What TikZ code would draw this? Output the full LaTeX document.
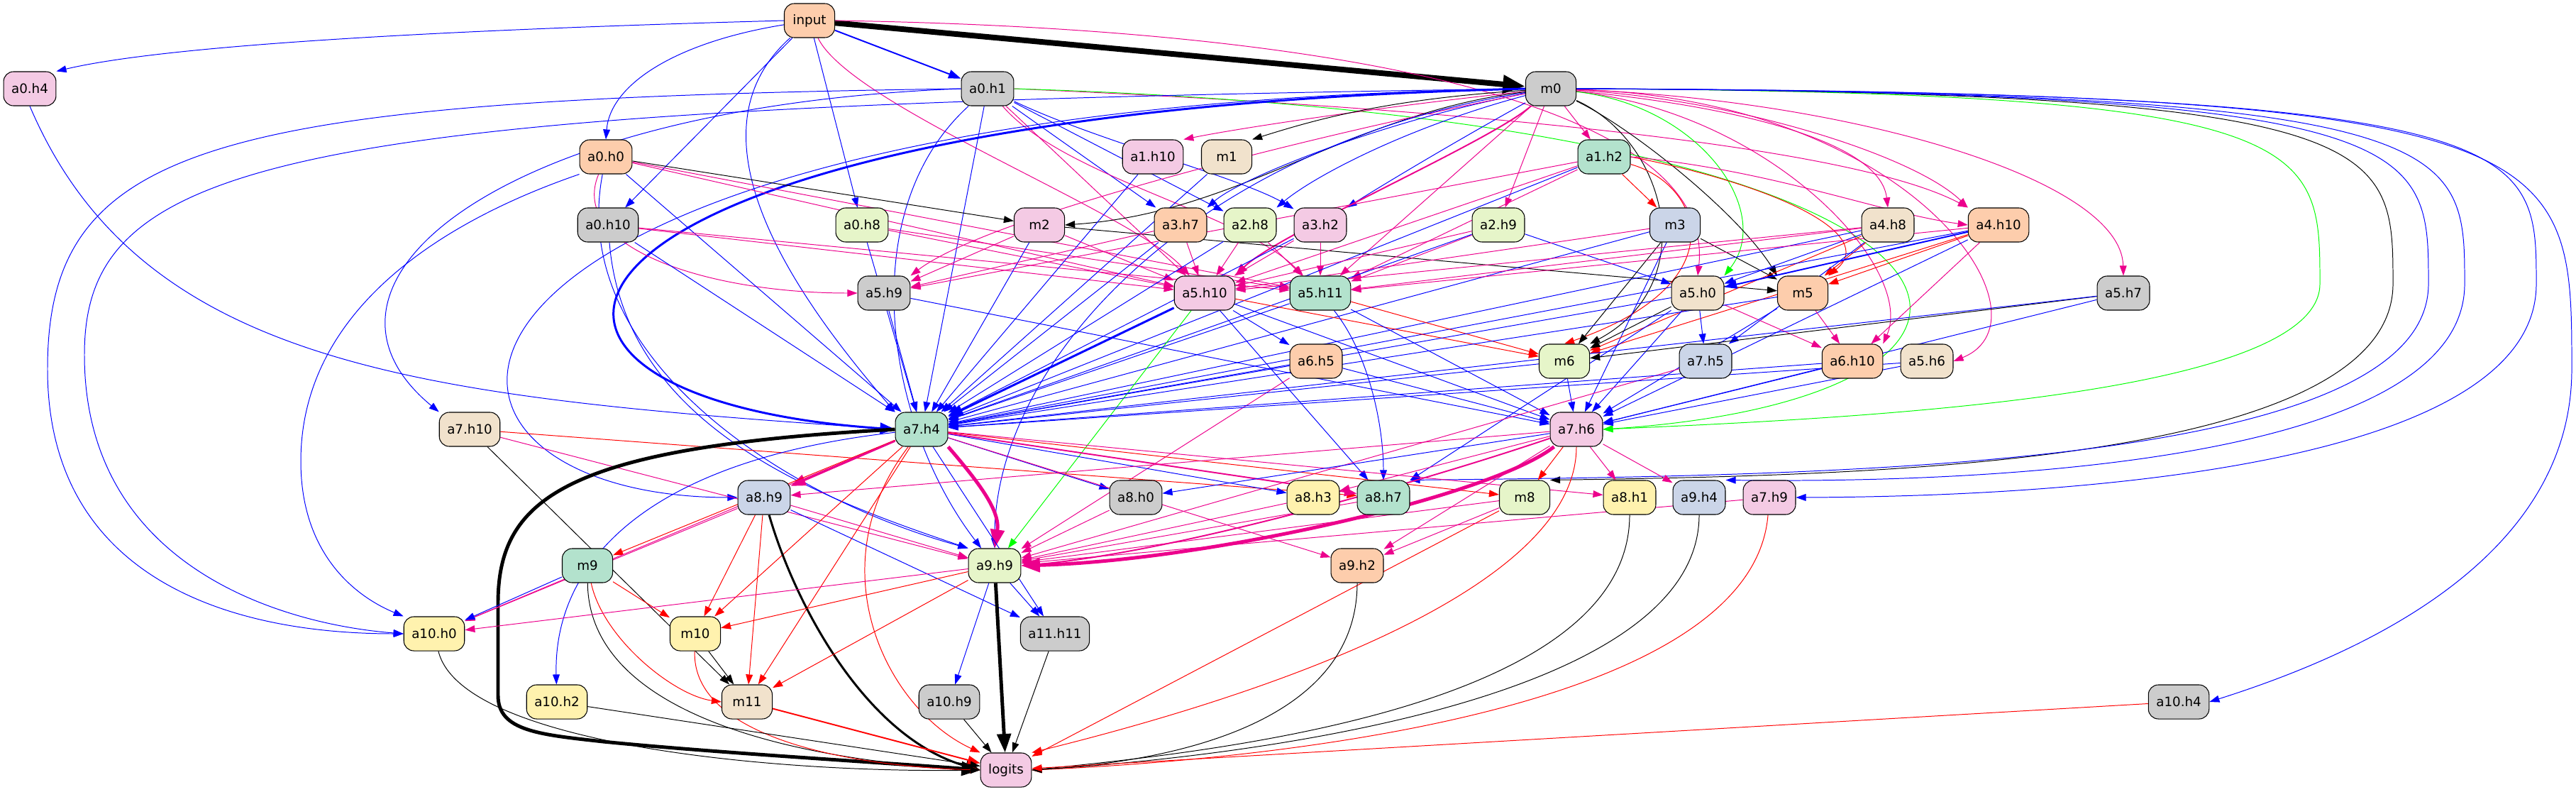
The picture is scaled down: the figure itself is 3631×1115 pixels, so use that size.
\documentclass[tikz,border=0pt]{standalone}
\usepackage{fontspec}
\setmainfont{DejaVu Sans}
\usetikzlibrary{arrows.meta,backgrounds}

\definecolor{cpeach}{HTML}{FDCDAC}
\definecolor{cgrey}{HTML}{CCCCCC}
\definecolor{cpink}{HTML}{F4CAE4}
\definecolor{cbeige}{HTML}{F1E2CC}
\definecolor{cgreen}{HTML}{E6F5C9}
\definecolor{cteal}{HTML}{B3E2CD}
\definecolor{cblue}{HTML}{CBD5E8}
\definecolor{cyellow}{HTML}{FFF2AE}

\tikzset{
  box/.style={draw, line width=0.3pt, rounded corners=0.14cm, minimum width=0.71cm,
    minimum height=0.48cm, inner xsep=0.11cm, inner ysep=0pt, font=\fontsize{5.2}{6}\selectfont},
  wire/.style={line width=0.28pt, -{Triangle[length=4pt,width=2.8pt]}},
  eblue/.style={wire, draw=blue},
  emag/.style={wire, draw=magenta},
  ered/.style={wire, draw=red},
  eblk/.style={wire, draw=black},
  egrn/.style={wire, draw=green},
  wtwo/.style={line width=0.55pt, -{Triangle[length=5pt,width=3.5pt]}},
  wthree/.style={line width=0.85pt, -{Triangle[length=6pt,width=4.5pt]}},
  wfive/.style={line width=1.4pt, -{Triangle[length=7.5pt,width=5.5pt]}},
  weight/.style={line width=2.25pt, -{Triangle[length=9pt,width=7pt]}}
}

\begin{document}
\begin{tikzpicture}[x=0.01cm, y=-0.01cm]
  \useasboundingbox (0,0) rectangle (3631,1115);
  % row 0-1
  \node[box, fill=cpeach] (input) at (1141,29) {input};
  \node[box, fill=cpink] (a0h4) at (42,125) {a0.h4};
  \node[box, fill=cgrey] (a0h1) at (1392,125) {a0.h1};
  \node[box, fill=cgrey] (m0) at (2186,125) {m0};
  % row 2
  \node[box, fill=cpeach] (a0h0) at (854,221) {a0.h0};
  \node[box, fill=cpink] (a1h10) at (1625,221) {a1.h10};
  \node[box, fill=cbeige] (m1) at (1729,221) {m1};
  \node[box, fill=cteal] (a1h2) at (2261,221) {a1.h2};
  % row 3
  \node[box, fill=cgrey] (a0h10) at (857,317) {a0.h10};
  \node[box, fill=cgreen] (a0h8) at (1215,317) {a0.h8};
  \node[box, fill=cpink] (m2) at (1465,317) {m2};
  \node[box, fill=cpeach] (a3h7) at (1664,317) {a3.h7};
  \node[box, fill=cgreen] (a2h8) at (1762,317) {a2.h8};
  \node[box, fill=cpink] (a3h2) at (1861,317) {a3.h2};
  \node[box, fill=cgreen] (a2h9) at (2112,317) {a2.h9};
  \node[box, fill=cblue] (m3) at (2361,317) {m3};
  \node[box, fill=cbeige] (a4h8) at (2661,317) {a4.h8};
  \node[box, fill=cpeach] (a4h10) at (2817,317) {a4.h10};
  % row 4
  \node[box, fill=cgrey] (a5h9) at (1246,413) {a5.h9};
  \node[box, fill=cpink] (a5h10) at (1698,413) {a5.h10};
  \node[box, fill=cteal] (a5h11) at (1861,413) {a5.h11};
  \node[box, fill=cbeige] (a5h0) at (2393,413) {a5.h0};
  \node[box, fill=cpeach] (m5) at (2541,413) {m5};
  \node[box, fill=cgrey] (a5h7) at (2993,413) {a5.h7};
  % row 5
  \node[box, fill=cpeach] (a6h5) at (1855,509) {a6.h5};
  \node[box, fill=cgreen] (m6) at (2205,509) {m6};
  \node[box, fill=cblue] (a7h5) at (2404,509) {a7.h5};
  \node[box, fill=cpeach] (a6h10) at (2611,509) {a6.h10};
  \node[box, fill=cbeige] (a5h6) at (2716,509) {a5.h6};
  % row 6
  \node[box, fill=cbeige] (a7h10) at (662,605) {a7.h10};
  \node[box, fill=cteal] (a7h4) at (1299,605) {a7.h4};
  \node[box, fill=cpink] (a7h6) at (2222,605) {a7.h6};
  % row 7
  \node[box, fill=cblue] (a8h9) at (1077,701) {a8.h9};
  \node[box, fill=cgrey] (a8h0) at (1601,701) {a8.h0};
  \node[box, fill=cyellow] (a8h3) at (1851,701) {a8.h3};
  \node[box, fill=cteal] (a8h7) at (1950,701) {a8.h7};
  \node[box, fill=cgreen] (m8) at (2149,701) {m8};
  \node[box, fill=cyellow] (a8h1) at (2297,701) {a8.h1};
  \node[box, fill=cblue] (a9h4) at (2395,701) {a9.h4};
  \node[box, fill=cpink] (a7h9) at (2494,701) {a7.h9};
  % row 8-11
  \node[box, fill=cteal] (m9) at (828,797) {m9};
  \node[box, fill=cgreen] (a9h9) at (1402,797) {a9.h9};
  \node[box, fill=cpeach] (a9h2) at (1913,797) {a9.h2};
  \node[box, fill=cyellow] (a10h0) at (612,893) {a10.h0};
  \node[box, fill=cyellow] (m10) at (980,893) {m10};
  \node[box, fill=cgrey] (a11h11) at (1487,893) {a11.h11};
  \node[box, fill=cyellow] (a10h2) at (785,989) {a10.h2};
  \node[box, fill=cbeige] (m11) at (1053,989) {m11};
  \node[box, fill=cgrey] (a10h9) at (1338,989) {a10.h9};
  \node[box, fill=cgrey] (a10h4) at (3071,989) {a10.h4};
  \node[box, fill=cpink] (logits) at (1418,1085) {logits};

  \begin{pgfonlayer}{background}
  % input
  \draw[eblk,weight] (input) -- (m0);
  \draw[eblue,wtwo] (input) -- (a0h1);
  \draw[eblue] (input.west) .. controls (700,40) and (250,60) .. (a0h4.north east);
  \draw[eblue] (input) .. controls (950,60) and (860,120) .. (a0h0.north);
  \draw[eblue] (input) -- (a0h10);
  \draw[eblue] (input) -- (a0h8);
  \draw[eblue] (input) .. controls (950,200) and (1150,450) .. (a7h4.north west);
  \draw[emag] (input) .. controls (1200,150) and (1600,300) .. (a5h10);
  \draw[emag] (input.east) .. controls (1900,40) and (2420,150) .. (a5h0.north);
  % a0.h1
  \draw[eblue] (a0h1) -- (a3h7);
  \draw[eblue] (a0h1) -- (a2h8);
  \draw[eblue] (a0h1) .. controls (1550,200) and (1750,250) .. (a3h2);
  \draw[eblue] (a0h1) -- (a7h4);
  \draw[eblue] (a0h1.west) .. controls (300,140) and (67,200) .. (67,520) .. controls (67,800) and (300,893) .. (a10h0.west);
  \draw[eblue] (a0h1.west) .. controls (700,150) and (400,400) .. (a7h10.north west);
  \draw[eblue] (a0h1) .. controls (1200,300) and (1250,600) .. (a9h9);
  \draw[emag] (a0h1) .. controls (1500,250) and (1750,300) .. (a5h11);
  \draw[emag] (a0h1) -- (a5h10);
  \draw[emag] (a0h1.east) .. controls (2000,150) and (2600,200) .. (a4h10.north west);
  \draw[egrn] (a0h1.east) .. controls (2900,170) and (2950,560) .. (a7h6.east);
  % m0
  \draw[emag] (m0) -- (a1h2);
  \draw[emag] (m0) -- (a2h9);
  \draw[emag] (m0) .. controls (1950,150) and (1750,180) .. (a1h10.north east);
  \draw[eblk] (m0) .. controls (1950,140) and (1850,170) .. (m1.north east);
  \draw[eblk] (m0) .. controls (1900,160) and (1750,300) .. (m2.east);
  \draw[eblue] (m0) .. controls (1950,170) and (1750,250) .. (a3h7.north east);
  \draw[eblue] (m0) .. controls (1980,180) and (1850,250) .. (a2h8.north east);
  \draw[eblue] (m0) .. controls (2050,200) and (1950,260) .. (a3h2.north east);
  \draw[emag,wtwo] (m0) .. controls (2100,200) and (1800,330) .. (a5h10.north east);
  \draw[emag] (m0) -- (a5h11);
  \draw[emag] (m0) .. controls (1900,180) and (1400,300) .. (a5h9.north east);
  \draw[emag] (m0) .. controls (2450,150) and (2650,200) .. (a4h8.north);
  \draw[emag] (m0) .. controls (2450,140) and (2700,220) .. (a4h10.north west);
  \draw[emag] (m0) .. controls (2600,140) and (2990,250) .. (a5h7.north);
  \draw[emag] (m0) .. controls (2700,140) and (2900,450) .. (a5h6.east);
  \draw[emag] (m0) .. controls (2500,160) and (2700,380) .. (a6h10.north east);
  \draw[egrn] (m0) .. controls (2400,150) and (2500,300) .. (a5h0.north east);
  \draw[eblk] (m0) .. controls (2350,200) and (2400,400) .. (m6.north east);
  \draw[eblk] (m0) .. controls (2300,180) and (2450,300) .. (m5.north west);
  \draw[eblue,wthree] (m0.west) .. controls (700,160) and (600,560) .. (a7h4.west);
  \draw[eblue] (m0.west) .. controls (400,150) and (119,220) .. (119,500) .. controls (119,800) and (400,880) .. (a10h0.west);
  \draw[eblue] (m0.west) .. controls (500,150) and (500,700) .. (a8h9.west);
  \draw[eblue] (m0) .. controls (1700,200) and (1400,500) .. (a9h9.north);
  \draw[egrn] (m0.east) .. controls (3270,130) and (3270,200) .. (3270,400) .. controls (3270,560) and (2600,590) .. (a7h6.east);
  \draw[eblk] (m0.east) .. controls (3373,130) and (3373,200) .. (3373,400) .. controls (3373,660) and (2600,670) .. (m8.north east);
  \draw[eblue] (m0.east) .. controls (3423,130) and (3423,200) .. (3423,400) .. controls (3423,660) and (2600,670) .. (a8h7.north east);
  \draw[eblue] (m0.east) .. controls (3474,130) and (3474,200) .. (3474,400) .. controls (3474,670) and (2700,680) .. (a9h4.north east);
  \draw[eblue] (m0.east) .. controls (3575,130) and (3575,200) .. (3575,400) .. controls (3575,680) and (2800,700) .. (a7h9.east);
  \draw[eblue] (m0.east) .. controls (3625,130) and (3625,200) .. (3625,520) .. controls (3625,800) and (3300,930) .. (a10h4.east);
  % a0.h0, a0.h10, a0.h8, a0.h4
  \draw[eblk] (a0h0) -- (m2);
  \draw[emag] (a0h0) -- (a5h10);
  \draw[emag] (a0h0) -- (a5h11);
  \draw[emag] (a0h0) .. controls (800,350) and (1000,413) .. (a5h9.west);
  \draw[eblue] (a0h0) -- (a7h4);
  \draw[eblue] (a0h0.south west) .. controls (600,320) and (424,450) .. (424,650) .. controls (424,780) and (500,840) .. (a10h0.north west);
  \draw[eblue] (a0h0) .. controls (800,500) and (1100,700) .. (a9h9.north west);
  \draw[emag] (a0h10) -- (a5h10);
  \draw[emag] (a0h10) -- (a5h11);
  \draw[eblue] (a0h10) -- (a7h4);
  \draw[eblue] (a0h10) .. controls (880,600) and (1150,700) .. (a9h9.north west);
  \draw[emag] (a0h8) -- (a5h10);
  \draw[emag] (a0h8) -- (a5h11);
  \draw[eblue] (a0h8) -- (a7h4);
  \draw[eblue] (a0h4.south) .. controls (200,520) and (600,560) .. (a7h4.west);
  % row 2-3 heads
  \draw[eblue] (a1h10) -- (a7h4);
  \draw[eblue] (m1) -- (a7h4);
  \draw[emag] (m2) -- (a5h10);
  \draw[emag] (m2) -- (a5h9);
  \draw[eblue] (m2) -- (a7h4);
  \draw[eblk] (m2) -- (m5);
  \draw[emag] (a3h7) -- (a5h10);
  \draw[emag] (a3h7) -- (a5h9);
  \draw[eblue] (a3h7) -- (a7h4);
  \draw[emag] (a2h8) -- (a5h10);
  \draw[emag] (a2h8) -- (a5h11);
  \draw[eblue] (a2h8) -- (a7h4);
  \draw[emag] (a3h2) -- (a5h11);
  \draw[emag] (a3h2) -- (a5h10);
  \draw[eblue] (a3h2) -- (a7h4);
  \draw[ered] (a1h2) -- (m3);
  \draw[emag] (a1h2) -- (a5h11);
  \draw[emag] (a1h2) -- (a5h10);
  \draw[emag] (a1h2) -- (a5h9);
  \draw[eblue] (a1h2) -- (a7h4);
  \draw[ered] (a1h2) .. controls (2400,260) and (2450,400) .. (m6.north);
  \draw[ered] (a1h2.east) .. controls (2500,260) and (2650,330) .. (m5.north east);
  \draw[emag] (a1h2.east) .. controls (2500,240) and (2650,300) .. (a4h10.west);
  \draw[emag] (a2h9) -- (a5h10);
  \draw[emag] (a2h9) -- (a5h11);
  \draw[eblue] (a2h9) -- (a7h4);
  \draw[eblue] (a2h9) -- (a5h0);
  \draw[emag] (m3) -- (a5h10);
  \draw[eblk] (m3) -- (m5);
  \draw[eblk] (m3) -- (m6);
  \draw[eblue] (m3) -- (a7h4);
  \draw[eblue] (m3) -- (a7h6);
  \draw[emag] (a4h8) -- (a5h10);
  \draw[emag] (a4h8) -- (a5h11);
  \draw[ered] (a4h8) -- (m5);
  \draw[eblue] (a4h8) -- (a5h0);
  \draw[eblue] (a4h8) -- (a7h4);
  \draw[eblue] (a4h8) -- (a7h5);
  \draw[ered] (a4h8) -- (m6);
  \draw[eblue,wtwo] (a4h10) -- (a5h0);
  \draw[ered] (a4h10) -- (m5);
  \draw[ered] (a4h10) -- (m6);
  \draw[emag] (a4h10) -- (a6h10);
  \draw[eblue] (a4h10) -- (a7h4);
  \draw[eblue] (a4h10) -- (a7h6);
  \draw[emag] (a4h10) -- (a5h11);
  % row 4
  \draw[eblue] (a5h9) -- (a7h4);
  \draw[eblue] (a5h9) -- (a7h6);
  \draw[eblue,wthree] (a5h10) -- (a7h4);
  \draw[eblue] (a5h10) -- (a6h5);
  \draw[ered] (a5h10) -- (m6);
  \draw[eblue] (a5h10) -- (a7h6);
  \draw[eblue] (a5h10) -- (a8h7);
  \draw[egrn] (a5h10) -- (a9h9);
  \draw[eblue] (a5h11) -- (a7h4);
  \draw[ered] (a5h11) -- (m6);
  \draw[eblue] (a5h11) -- (a7h6);
  \draw[eblue] (a5h11) .. controls (1930,500) and (1950,600) .. (a8h7);
  \draw[eblk] (a5h0) -- (m6);
  \draw[eblue] (a5h0) -- (a7h5);
  \draw[emag] (a5h0) -- (a6h10);
  \draw[eblue] (a5h0) -- (a7h4);
  \draw[eblue] (a5h0) -- (a7h6);
  \draw[eblue] (a5h0) -- (a8h7);
  \draw[emag] (m5) -- (a6h10);
  \draw[eblue] (m5) -- (a7h6);
  \draw[eblue] (m5) -- (a7h4);
  \draw[eblk] (a5h7) -- (m6);
  \draw[eblue] (a5h7) -- (a7h6);
  \draw[eblue] (a5h7) -- (a7h4);
  % row 5
  \draw[eblue] (a6h5) -- (a7h4);
  \draw[eblue] (a6h5) -- (a7h6);
  \draw[emag] (a6h5) -- (a9h9);
  \draw[eblue] (m6) -- (a7h6);
  \draw[eblue] (m6) -- (a7h4);
  \draw[emag] (a7h5) -- (a9h9);
  \draw[eblue] (a6h10) -- (a7h4);
  \draw[eblue] (a6h10) -- (a7h6);
  \draw[eblue] (a5h6) -- (a7h4);
  \draw[eblue] (a5h6) -- (a7h6);
  % row 6
  \draw[eblk] (a7h10) -- (m11);
  \draw[ered] (a7h10) -- (a8h7);
  \draw[emag] (a7h10) -- (a9h9);
  \draw[emag,wthree] (a7h4) -- (a8h9);
  \draw[emag,wfive] (a7h4.south east) .. controls (1380,680) and (1410,720) .. (a9h9.north);
  \draw[eblk,wfive] (a7h4.west) .. controls (800,630) and (702,700) .. (702,850) -- (702,980)
    .. controls (702,1030) and (760,1035) .. (850,1045) .. controls (1000,1060) and (1250,1075) .. (logits.west);
  \draw[ered] (a7h4) -- (m9);
  \draw[ered] (a7h4) -- (m10);
  \draw[ered] (a7h4) -- (m11);
  \draw[emag] (a7h4) -- (a10h0);
  \draw[eblue] (a7h4) .. controls (900,650) and (780,800) .. (a10h2);
  \draw[eblue] (a7h4) -- (a8h0);
  \draw[eblue] (a7h4) -- (a8h3);
  \draw[emag,wtwo] (a7h4) -- (a8h7);
  \draw[ered] (a7h4) -- (m8);
  \draw[emag] (a7h4) -- (a8h1);
  \draw[eblue] (a7h4) -- (a11h11);
  \draw[emag] (a7h4) -- (a9h2);
  \draw[ered] (a7h4) .. controls (1150,800) and (1250,1000) .. (logits.north west);
  \draw[ered] (a7h6) -- (m8);
  \draw[emag] (a7h6) -- (a8h1);
  \draw[emag] (a7h6) -- (a9h4);
  \draw[emag] (a7h6) -- (a8h9);
  \draw[emag] (a7h6) -- (a8h3);
  \draw[emag,wfive] (a7h6) .. controls (2100,700) and (1700,790) .. (a9h9.east);
  \draw[emag,wtwo] (a7h6) .. controls (2000,680) and (1650,780) .. (a9h9.east);
  \draw[emag] (a7h6) -- (a9h2);
  \draw[ered] (a7h6.south) .. controls (2222,850) and (1700,1000) .. (logits.north east);
  \draw[eblue] (a7h6) -- (a8h0);
  % row 7
  \draw[eblk,wthree] (a8h9) .. controls (1120,850) and (1220,1040) .. (logits.west);
  \draw[emag] (a8h9) -- (a9h9);
  \draw[emag] (a8h9) -- (a10h0);
  \draw[ered] (a8h9) -- (m10);
  \draw[ered] (a8h9) -- (m11);
  \draw[eblue] (a8h9) -- (a11h11);
  \draw[emag] (a8h0) -- (a9h9);
  \draw[emag] (a8h3) -- (a9h9);
  \draw[emag] (a8h7) -- (a9h9);
  \draw[emag] (m8) -- (a9h9);
  \draw[emag] (m8) -- (a9h2);
  \draw[ered] (m8) -- (logits);
  \draw[eblk] (a8h1) .. controls (2297,1000) and (1700,1060) .. (logits.east);
  \draw[eblk] (a9h4) .. controls (2395,1000) and (1700,1070) .. (logits.east);
  \draw[emag] (a7h9) -- (a9h9);
  \draw[ered] (a7h9) .. controls (2470,1000) and (1800,1070) .. (logits.east);
  % bottom rows
  \draw[eblue] (m9) -- (a10h0);
  \draw[ered] (m9) -- (m10);
  \draw[ered] (m9) .. controls (850,900) and (950,980) .. (m11.west);
  \draw[eblk] (m9) .. controls (830,1000) and (1100,1070) .. (logits.west);
  \draw[eblk,wfive] (a9h9) -- (logits);
  \draw[eblue] (a9h9) -- (a11h11);
  \draw[eblue] (a9h9) -- (a10h9);
  \draw[ered] (a9h9) -- (m10);
  \draw[ered] (a9h9) -- (m11);
  \draw[emag] (a9h9) -- (a10h0);
  \draw[eblk] (a9h2) .. controls (1913,1000) and (1700,1070) .. (logits.east);
  \draw[eblk] (m10) -- (m11);
  \draw[ered] (m10) .. controls (975,1040) and (1200,1080) .. (logits.west);
  \draw[eblk] (a10h0) .. controls (650,1050) and (1100,1090) .. (logits.west);
  \draw[eblk] (a11h11) -- (logits);
  \draw[ered,wtwo] (m11) -- (logits);
  \draw[eblk] (a10h2) -- (logits);
  \draw[eblk] (a10h9) -- (logits);
  \draw[ered] (a10h4) -- (logits);
  \end{pgfonlayer}
\end{tikzpicture}
\end{document}
